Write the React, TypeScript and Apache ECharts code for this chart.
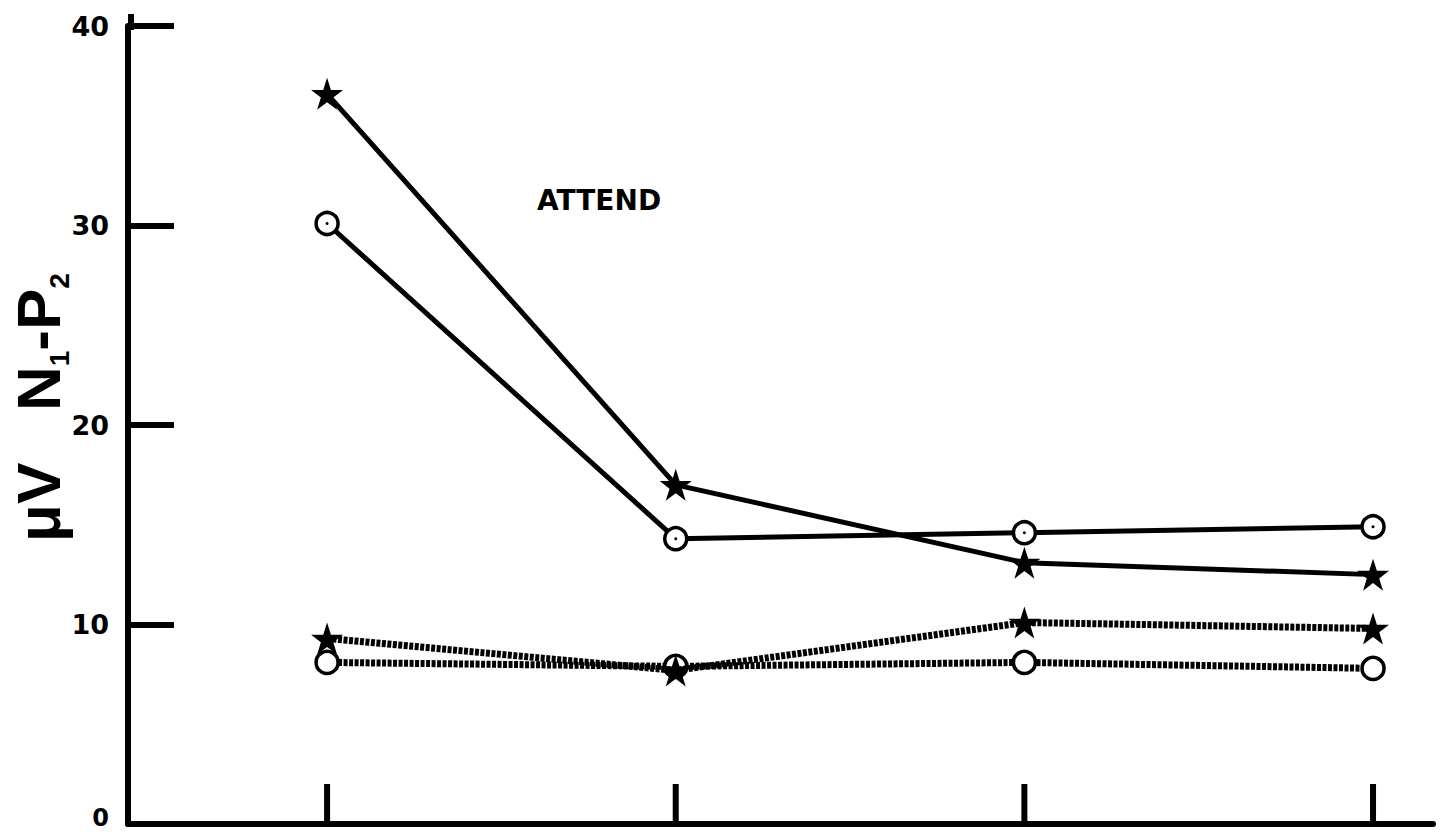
import React, { useEffect, useRef } from "react";
import * as echarts from "echarts";

// ---- data ----
const xPositions = [1, 2, 3, 4];
const attendStar = [36.6, 17.0, 13.1, 12.5];
const attendCircle = [30.1, 14.3, 14.6, 14.9];
const ignoreStar = [9.3, 7.7, 10.1, 9.8];
const ignoreCircle = [8.1, 7.9, 8.1, 7.8];
const yTicks = [0, 10, 20, 30, 40];
const annotation = "ATTEND";

const STAR =
  "path://M50,0 L61.8,35.5 L99,35.5 L69,57.5 L80.5,93 L50,71 L19.5,93 L31,57.5 L1,35.5 L38.2,35.5 Z";

const pair = (ys: number[]) => xPositions.map((x, i) => [x, ys[i]]);

export default function App() {
  const ref = useRef<HTMLDivElement>(null);
  useEffect(() => {
    if (!ref.current) return;
    const chart = echarts.init(ref.current, undefined, { renderer: "svg" });
    const font = "DejaVu Sans";
    const solidLine = { color: "#000", width: 5, type: "solid" as const };
    const dottedLine = { color: "#000", width: 7, type: [4, 1.5] as any, cap: "butt" as const };
    const circleItem = { color: "#fff", borderColor: "#000", borderWidth: 3.5, opacity: 1 };
    const starItem = { color: "#000", opacity: 1 };
    chart.setOption({
      animation: false,
      backgroundColor: "#fff",
      grid: { left: 128, right: 14, top: 26, bottom: 8, containLabel: false },
      xAxis: {
        type: "value",
        min: 0.429,
        max: 4.172,
        axisLine: { show: true, onZero: false, lineStyle: { color: "#000", width: 6 } },
        axisTick: { show: false },
        axisLabel: { show: false },
        splitLine: { show: false },
      },
      yAxis: {
        type: "value",
        min: yTicks[0],
        max: yTicks[yTicks.length - 1],
        interval: 10,
        axisLine: { show: true, lineStyle: { color: "#000", width: 6 } },
        axisTick: { show: true, inside: true, length: 46, lineStyle: { color: "#000", width: 6 } },
        axisLabel: {
          show: true,
          margin: 19,
          color: "#000",
          fontFamily: font,
          fontWeight: "bold",
          fontSize: 27,
          formatter: (v: number) => (v === 0 ? "{z|0}" : String(v)),
          rich: {
            z: {
              fontFamily: font,
              fontWeight: "bold",
              fontSize: 24,
              color: "#000",
              padding: [0, 0, 12, 0],
            },
          },
        },
        splitLine: { show: false },
      },
      graphic: [
        {
          type: "text",
          left: 537,
          top: 186,
          style: {
            text: annotation,
            fontFamily: font,
            fontWeight: "bold",
            fontSize: 28,
            fill: "#000",
          },
        },
        {
          type: "text",
          x: 4,
          y: 542,
          rotation: Math.PI / 2,
          style: {
            text: "{m|μV   N}{s|1}{m|-P}{s|2}",
            fill: "#000",
            rich: {
              m: {
                fontFamily: "Liberation Sans",
                fontWeight: "bold",
                fontSize: 62,
                lineHeight: 68,
                verticalAlign: "middle",
              },
              s: {
                fontFamily: "Liberation Sans",
                fontWeight: "bold",
                fontSize: 28,
                lineHeight: 26,
                padding: [42, 0, 0, 0],
                verticalAlign: "middle",
              },
            },
          },
        },
        {
          type: "line",
          shape: { x1: 131, y1: 14, x2: 131, y2: 30 },
          style: { stroke: "#000", lineWidth: 6 },
        },
      ],
      series: [
        {
          type: "scatter",
          data: xPositions.map((x) => [x, 0]),
          symbol: "rect",
          symbolSize: [6, 40],
          symbolOffset: [0, "-50%"],
          itemStyle: { color: "#000", opacity: 1 },
          clip: false,
          z: 1,
        },
        {
          type: "line",
          data: pair(attendStar),
          symbol: STAR,
          symbolSize: 32,
          lineStyle: solidLine,
          itemStyle: starItem,
          z: 3,
        },
        {
          type: "line",
          data: pair(attendCircle),
          symbol: "circle",
          symbolSize: 22,
          lineStyle: solidLine,
          itemStyle: circleItem,
          z: 3,
        },
        {
          type: "scatter",
          data: pair(attendCircle),
          symbol: "circle",
          symbolSize: 3,
          itemStyle: { color: "#000", opacity: 1 },
          z: 5,
        },
        {
          type: "line",
          data: pair(ignoreCircle),
          symbol: "circle",
          symbolSize: 22,
          lineStyle: dottedLine,
          itemStyle: circleItem,
          z: 2,
        },
        {
          type: "line",
          data: pair(ignoreStar),
          symbol: STAR,
          symbolSize: 32,
          lineStyle: dottedLine,
          itemStyle: starItem,
          z: 4,
        },
      ],
    });
    return () => chart.dispose();
  }, []);
  return (
    <div
      ref={ref}
      style={{ position: "fixed", left: 0, top: 0, width: 1447, height: 832, background: "#fff" }}
    />
  );
}
